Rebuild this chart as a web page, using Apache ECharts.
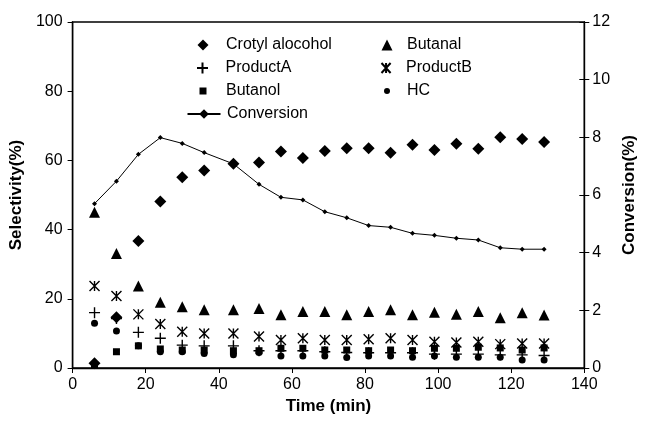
<!DOCTYPE html>
<html>
<head>
<meta charset="utf-8">
<script src="https://cdn.jsdelivr.net/npm/echarts@6/dist/echarts.min.js"></script>
<style>
  html, body { margin: 0; padding: 0; background: #fff; }
  #chart { width: 646px; height: 427px; }
</style>
</head>
<body>
<div id="chart"></div>
<script>
// Sampling times (min)
const times = [6, 12, 18, 24, 30, 36, 44, 51, 57, 63, 69, 75, 81, 87, 93, 99, 105, 111, 117, 123, 129];

// Selectivity (%) of each product
const crotylAlcohol = [1.4, 14.7, 36.7, 48.1, 55.1, 57.1, 59.0, 59.4, 62.6, 60.7, 62.7, 63.5, 63.5, 62.2, 64.5, 63.0, 64.8, 63.4, 66.7, 66.2, 65.3];
const butanal       = [45.0, 33.1, 23.7, 19.0, 17.7, 16.8, 16.8, 17.2, 15.4, 16.3, 16.3, 15.4, 16.3, 16.8, 15.4, 16.1, 15.5, 16.3, 14.5, 16.0, 15.3];
const productA      = [16.0, 14.3, 10.3, 8.6, 6.6, 6.4, 6.4, 5.0, 5.0, 5.0, 4.7, 4.5, 4.4, 4.4, 4.4, 4.0, 4.0, 4.0, 3.8, 3.8, 3.6];
const productB      = [23.7, 20.8, 15.5, 12.7, 10.5, 10.0, 10.0, 9.1, 8.1, 8.6, 8.1, 8.1, 8.3, 8.6, 8.1, 7.6, 7.4, 7.6, 6.9, 7.1, 7.1];
const butanol       = [1.0, 4.7, 6.4, 5.5, 5.2, 5.2, 5.0, 5.0, 5.7, 5.7, 5.2, 5.2, 5.0, 5.2, 5.0, 5.7, 5.7, 6.0, 5.8, 5.2, 5.8];
const hc            = [12.9, 10.7, 6.4, 4.7, 4.7, 4.2, 3.8, 4.5, 3.5, 3.5, 3.5, 3.0, 3.5, 3.5, 3.1, 3.5, 3.1, 3.1, 3.1, 2.3, 2.3];

// Conversion (%)
const conversion    = [5.70, 6.48, 7.41, 7.99, 7.79, 7.47, 7.08, 6.37, 5.92, 5.83, 5.42, 5.21, 4.94, 4.88, 4.67, 4.60, 4.50, 4.44, 4.17, 4.12, 4.12];

// Axis ticks
const xTicks = { min: 0, max: 140, interval: 20 };
const selTicks = { min: 0, max: 100, interval: 20 };
const convTicks = { min: 0, max: 12, interval: 2 };

const FONT = "'Liberation Sans', Arial, sans-serif";
const INK = '#000';

const pairs = ys => times.map((t, i) => [t, ys[i]]);

const PLUS = 'path://M5,0L5,10M0,5L10,5';
const STAR = 'path://M0,0L10,11M10,0L0,11M5,0L5,11';

function scatter(name, data, symbol, size, stroked) {
  return {
    name, type: 'scatter', data: pairs(data),
    symbol, symbolSize: size,
    itemStyle: stroked
      ? { color: 'none', borderColor: INK, borderWidth: 1.4, opacity: 1 }
      : { color: INK, opacity: 1 },
    emphasis: { disabled: true },
    z: 3
  };
}

// One legend block per entry so each key symbol keeps its own size.
// cx: symbol centre x, cy: row centre y, textX: where the label starts.
// shift compensates for stroked keys whose outline widens the block.
function legendRow(name, cx, cy, w, h, textX, shift = 0) {
  const left = cx - 5 - w / 2 - shift;
  const pad = Math.max(0, textX - (left + shift) - 10 - w - 1);
  return {
    orient: 'vertical', left, top: cy - 12,
    itemWidth: w, itemHeight: h,
    textStyle: { color: INK, fontFamily: FONT, fontSize: 16, padding: [0, 0, 0, pad] },
    data: [name],
    selectedMode: false
  };
}

const chart = echarts.init(document.getElementById('chart'), null, { renderer: 'canvas' });

const axisLabel = { color: INK, fontFamily: FONT, fontSize: 16 };
const axisName = { color: INK, fontFamily: FONT, fontSize: 17, fontWeight: 'bold' };

chart.setOption({
  animation: false,
  backgroundColor: '#fff',
  grid: { left: 71, right: 54, top: 22, bottom: 59, show: true, borderColor: INK, borderWidth: 1.5 },
  xAxis: {
    type: 'value', ...xTicks,
    name: 'Time (min)', nameLocation: 'middle', nameGap: 30, nameTextStyle: axisName,
    axisLine: { lineStyle: { color: INK, width: 1.3 } },
    axisTick: { show: true, length: 5, lineStyle: { color: INK } },
    axisLabel: { ...axisLabel, margin: 9 },
    splitLine: { show: false }
  },
  yAxis: [
    {
      type: 'value', ...selTicks, position: 'left',
      name: 'Selectivity(%)', nameLocation: 'middle', nameGap: 42, nameRotate: 90, nameTextStyle: axisName,
      axisLine: { show: true, lineStyle: { color: INK, width: 1.3 } },
      axisTick: { show: true, length: 5, lineStyle: { color: INK } },
      axisLabel: { ...axisLabel, margin: 10 },
      splitLine: { show: false }
    },
    {
      type: 'value', ...convTicks, position: 'right',
      name: 'Conversion(%)', nameLocation: 'middle', nameGap: 32, nameRotate: 90, nameTextStyle: axisName,
      axisLine: { show: true, lineStyle: { color: INK, width: 1.3 } },
      axisTick: { show: true, length: 5, lineStyle: { color: INK } },
      axisLabel: { ...axisLabel, margin: 8 },
      splitLine: { show: false }
    },
    {
      // inner half of the right-hand tick marks
      type: 'value', ...convTicks, position: 'right',
      axisLine: { show: false },
      axisTick: { show: true, inside: true, length: 5, lineStyle: { color: INK } },
      axisLabel: { show: false },
      splitLine: { show: false }
    }
  ],
  legend: [
    legendRow('Crotyl alocohol', 203, 44, 11, 11, 227),
    legendRow('ProductA', 203, 67, 11, 11, 227, 3),
    legendRow('Butanol', 203, 90, 7, 7, 227),
    legendRow('Conversion', 203, 113, 33, 12, 227),
    legendRow('Butanal', 387, 44, 11, 11, 408),
    legendRow('ProductB', 387, 67, 10, 10, 408, 3),
    legendRow('HC', 387, 90, 6, 6, 408)
  ],
  series: [
    scatter('Crotyl alocohol', crotylAlcohol, 'diamond', 12, false),
    scatter('Butanal', butanal, 'triangle', 11, false),
    scatter('ProductA', productA, PLUS, 11, true),
    scatter('ProductB', productB, STAR, 10, true),
    scatter('Butanol', butanol, 'rect', 7, false),
    scatter('HC', hc, 'circle', 7, false),
    {
      name: 'Conversion', type: 'line', yAxisIndex: 1, data: pairs(conversion),
      symbol: 'diamond', symbolSize: 5, showAllSymbol: true,
      itemStyle: { color: INK },
      lineStyle: { color: INK, width: 1 },
      emphasis: { disabled: true },
      z: 2
    }
  ]
});
</script>
</body>
</html>
